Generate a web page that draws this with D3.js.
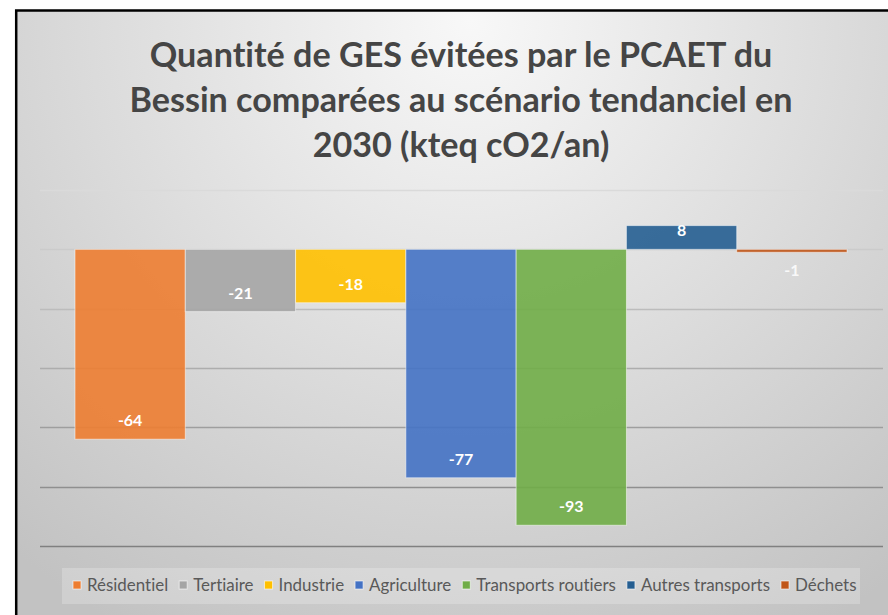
<!DOCTYPE html>
<html>
<head>
<meta charset="utf-8">
<script src="https://cdn.jsdelivr.net/npm/d3@7"></script>
<style>
  html, body { margin: 0; padding: 0; background: #fff; overflow: hidden; }
  svg { display: block; }
  text { font-variant-ligatures: none; font-feature-settings: "liga" 0, "clig" 0; }
</style>
</head>
<body>
<div id="chart"></div>
<script>
// Data
var categories = ["Résidentiel", "Tertiaire", "Industrie", "Agriculture", "Transports routiers", "Autres transports", "Déchets"];
var values = [-64, -21, -18, -77, -93, 8, -1];
var colors = ["#ED7D31", "#A5A5A5", "#FFC000", "#4472C4", "#70AD47", "#255E91", "#C0561A"];
var yTicks = [-100, -80, -60, -40, -20, 0, 20];
var titleLines = ["Quantité de GES évitées par le PCAET du", "Bessin comparées au scénario tendanciel en", "2030 (kteq cO2/an)"];

var svgWidth = 888;
var svgHeight = 615;

var svg = d3.select("#chart")
  .append("svg")
  .attr("width", svgWidth)
  .attr("height", svgHeight);

// background gradient
var defs = svg.append("defs");
var grad = defs.append("radialGradient")
  .attr("id", "bg")
  .attr("gradientUnits", "userSpaceOnUse")
  .attr("cx", 470).attr("cy", 20)
  .attr("r", 700);
grad.append("stop").attr("offset", "0%").attr("stop-color", "#f8f8f8");
grad.append("stop").attr("offset", "45%").attr("stop-color", "#e0e0e0");
grad.append("stop").attr("offset", "100%").attr("stop-color", "#c2c2c2");

svg.append("rect")
  .attr("x", 16).attr("y", 10)
  .attr("width", svgWidth - 16).attr("height", svgHeight - 10)
  .attr("fill", "url(#bg)");

// frame, only top and left edges are visible
svg.append("path")
  .attr("d", "M16.2," + svgHeight + "V10.5H" + svgWidth)
  .attr("fill", "none")
  .attr("stroke", "#000")
  .attr("stroke-width", 2.5);

// scales
var y = d3.scaleLinear().domain([-100, 20]).range([546, 190]);
var x = d3.scaleBand().domain(categories).range([75, 847]).padding(0);
var gridColor = d3.scaleLinear().domain([190, 546]).range(["#dadada", "#808080"]);

// gridlines
svg.append("g")
  .selectAll("line")
  .data(yTicks)
  .enter()
  .append("line")
  .attr("x1", 40).attr("x2", 883)
  .attr("y1", d => Math.round(y(d)) + 0.5)
  .attr("y2", d => Math.round(y(d)) + 0.5)
  .attr("stroke", d => gridColor(y(d)))
  .attr("stroke-width", 1.6);

// bars
svg.append("g")
  .selectAll("rect")
  .data(values)
  .enter()
  .append("rect")
  .attr("x", (d, i) => x(categories[i]))
  .attr("width", x.bandwidth())
  .attr("y", d => y(Math.max(0, d)))
  .attr("height", d => Math.abs(y(d) - y(0)))
  .attr("fill", (d, i) => colors[i])
  .attr("fill-opacity", 0.9)
  .attr("stroke", "#ffffff")
  .attr("stroke-opacity", 0.5)
  .attr("stroke-width", 1);

// data labels
svg.append("g")
  .selectAll("text")
  .data(values)
  .enter()
  .append("text")
  .attr("x", (d, i) => x(categories[i]) + x.bandwidth() / 2)
  .attr("y", function(d) {
    var h = Math.abs(y(d) - y(0));
    if (d >= 0) return y(d) + 10;
    if (h < 20) return y(d) + 24;
    return y(d) - 13;
  })
  .attr("text-anchor", "middle")
  .attr("font-family", "Lato, sans-serif")
  .attr("font-weight", "bold")
  .attr("font-size", 16)
  .attr("fill", "#ffffff")
  .attr("fill-opacity", d => Math.abs(y(d) - y(0)) < 20 && d < 0 ? 0.85 : 1)
  .text(d => d);

// title
var title = svg.append("g")
  .attr("font-family", "Lato, sans-serif")
  .attr("font-weight", "bold")
  .attr("fill", "#454545")
  .attr("text-anchor", "middle");
var titleSize = 32;
var titleText = title.selectAll("text")
  .data(titleLines)
  .enter()
  .append("text")
  .attr("x", 461)
  .attr("y", (d, i) => 67 + i * 45)
  .attr("font-size", titleSize)
  .text(d => d);
// fit line 2 width to the reference
var w2 = titleText.nodes()[1].getComputedTextLength();
titleText.attr("font-size", titleSize * 663 / w2);

// legend
svg.append("rect")
  .attr("x", 62).attr("y", 568)
  .attr("width", 798).attr("height", 36)
  .attr("fill", "#ffffff")
  .attr("fill-opacity", 0.22);

var legend = svg.append("g")
  .attr("font-family", "Lato, sans-serif")
  .attr("fill", "#595959");
var legendSize = 16;
var items = legend.selectAll("g")
  .data(categories)
  .enter()
  .append("g");
items.append("rect")
  .attr("width", 8).attr("height", 8)
  .attr("y", 581)
  .attr("fill", (d, i) => colors[i])
  .attr("stroke", "#ffffff")
  .attr("stroke-opacity", 0.6)
  .attr("stroke-width", 1);
var labels = items.append("text")
  .attr("y", 591)
  .attr("font-size", legendSize)
  .text(d => d);

// fit legend text width
var textTotal = d3.sum(labels.nodes(), n => n.getComputedTextLength());
var target = 784 - categories.length * 14 - (categories.length - 1) * 11;
legendSize = legendSize * target / textTotal;
labels.attr("font-size", legendSize);

var cursor = 73;
items.each(function() {
  var g = d3.select(this);
  var tw = g.select("text").node().getComputedTextLength();
  g.select("rect").attr("x", cursor);
  g.select("text").attr("x", cursor + 14);
  cursor += 14 + tw + 11;
});
</script>
</body>
</html>
